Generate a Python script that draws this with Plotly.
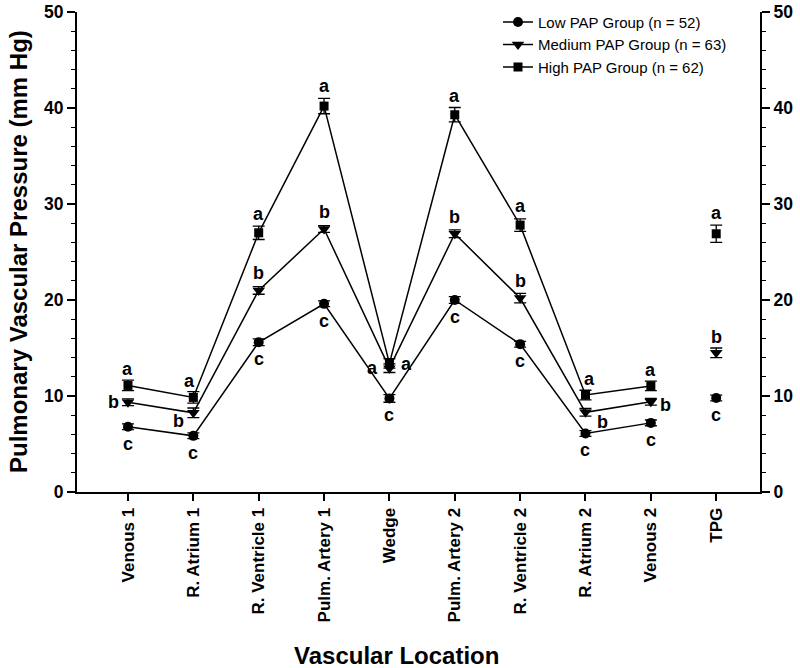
import plotly.graph_objects as go

locations = ["Venous 1", "R. Atrium 1", "R. Ventricle 1", "Pulm. Artery 1", "Wedge",
             "Pulm. Artery 2", "R. Ventricle 2", "R. Atrium 2", "Venous 2", "TPG"]

low_vals = [6.8, 5.85, 15.6, 19.6, 9.75, 20.0, 15.4, 6.1, 7.2, 9.8]
low_err = [0.3, 0.3, 0.35, 0.3, 0.4, 0.35, 0.3, 0.3, 0.3, 0.3]
med_vals = [9.35, 8.25, 21.0, 27.4, 12.9, 26.9, 20.2, 8.3, 9.4, 14.5]
med_err = [0.35, 0.5, 0.4, 0.35, 0.45, 0.4, 0.5, 0.4, 0.35, 0.5]
high_vals = [11.1, 9.85, 27.0, 40.2, 13.4, 39.3, 27.8, 10.1, 11.05, 26.9]
high_err = [0.55, 0.6, 0.7, 0.8, 0.5, 0.75, 0.65, 0.5, 0.5, 0.9]

low_letters = ["c"] * 10
med_letters = ["b", "b", "b", "b", "a", "b", "b", "b", "b", "b"]
high_letters = ["a"] * 10

group_names = ["Low PAP Group (n = 52)", "Medium PAP Group (n = 63)", "High PAP Group (n = 62)"]

FONT = "Liberation Sans, Arial, sans-serif"

# label placements (pixel shifts relative to point): (xshift, yshift)
low_place = [(0, -17)] * 10
med_place = [(-14, 0), (-15, -8), (0, 17), (0, 17), (-17, 0), (0, 17), (0, 17), (17, -10), (15, -3), (0, 16)]
high_place = [(0, 16), (-4, 16), (0, 19), (0, 20), (17, -1), (0, 19), (0, 19), (4, 16), (0, 16), (0, 21)]

groups = [
    (group_names[0], low_vals, low_err, low_letters, low_place, "circle", 10),
    (group_names[1], med_vals, med_err, med_letters, med_place, "triangle-down", 11),
    (group_names[2], high_vals, high_err, high_letters, high_place, "square", 9),
]

fig = go.Figure()
annotations = []
for name, vals, errs, letters, place, sym, msize in groups:
    fig.add_trace(go.Scatter(
        x=locations[:9], y=vals[:9], name=name, mode="lines+markers",
        line=dict(color="black", width=1.5),
        marker=dict(symbol=sym, size=msize, color="black"),
        error_y=dict(type="data", array=errs[:9], color="black", thickness=1.3, width=6),
    ))
    fig.add_trace(go.Scatter(
        x=locations[9:], y=vals[9:], name=name, mode="markers", showlegend=False,
        marker=dict(symbol=sym, size=msize, color="black"),
        error_y=dict(type="data", array=errs[9:], color="black", thickness=1.3, width=6),
    ))
    for loc, v, letter, (xs, ys) in zip(locations, vals, letters, place):
        annotations.append(dict(
            x=loc, y=v, xref="x", yref="y", text=letter, showarrow=False,
            xshift=xs, yshift=ys,
            font=dict(family=FONT, size=18, color="black", weight="bold"),
        ))

# axis titles
annotations.append(dict(
    x=(18 - 77) / 683, y=0.5, xref="paper", yref="paper",
    text="Pulmonary Vascular Pressure (mm Hg)",
    showarrow=False, textangle=-90, xanchor="center", yanchor="middle",
    font=dict(family=FONT, size=24, color="black", weight="bold")))
annotations.append(dict(
    x=0.4685, y=0, xref="paper", yref="paper", yshift=-163, text="Vascular Location",
    showarrow=False, xanchor="center", yanchor="middle",
    font=dict(family=FONT, size=24, color="black", weight="bold")))

# invisible trace to activate right axis
fig.add_trace(go.Scatter(x=[locations[0]], y=[0], yaxis="y2", mode="markers",
                         marker=dict(opacity=0), showlegend=False, hoverinfo="skip"))

tickfont = dict(family=FONT, size=17.5, color="black", weight="bold")
yax = dict(range=[0, 50], dtick=10, tick0=0, showgrid=False, zeroline=False,
           showline=True, linecolor="black", linewidth=2, automargin=False,
           ticks="outside", ticklen=8, tickwidth=2, tickcolor="black",
           minor=dict(dtick=2, ticks="outside", ticklen=4, tickwidth=1, tickcolor="black"),
           tickfont=tickfont)

fig.update_layout(
    width=800, height=668,
    margin=dict(l=77, r=40, t=12, b=176, autoexpand=False),
    paper_bgcolor="white", plot_bgcolor="white",
    showlegend=True,
    legend=dict(x=(498 - 77) / 683, y=1.013, xanchor="left", yanchor="top",
                bgcolor="rgba(0,0,0,0)", tracegroupgap=0,
                font=dict(family=FONT, size=15, color="black")),
    xaxis=dict(type="category", categoryorder="array", categoryarray=locations,
               range=[-0.78, 9.67], showgrid=False, zeroline=False, automargin=False,
               showline=True, linecolor="black", linewidth=2,
               ticks="outside", ticklen=7, tickwidth=2, tickcolor="black",
               tickangle=-90, tickfont=dict(family=FONT, size=17, color="black", weight="bold")),
    yaxis=yax,
    yaxis2=dict(**yax, overlaying="y", side="right", anchor="x"),
    annotations=annotations,
)

fig.write_html("out.html", config={"displayModeBar": False},
               post_script="document.body.style.margin='0';")
